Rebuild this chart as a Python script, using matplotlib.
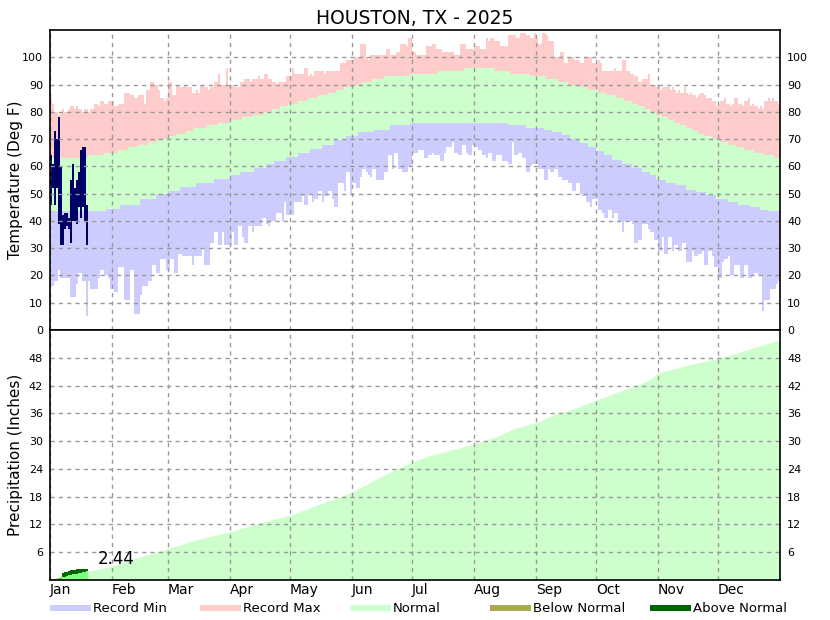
import numpy as np
import matplotlib
matplotlib.use("Agg")
import matplotlib.pyplot as plt
from matplotlib.patches import Rectangle

W, H = 830, 620

MONTHS = ["Jan", "Feb", "Mar", "Apr", "May", "Jun",
          "Jul", "Aug", "Sep", "Oct", "Nov", "Dec"]
MONTH_START = [0, 31, 59, 90, 120, 151, 181, 212, 243, 273, 304, 334]

# daily record highs / lows (deg F), day 0 = Jan 1
REC_MAX = [
    85, 83, 80, 80, 79, 80, 81, 80, 80, 81,
    82, 82, 81, 82, 81, 81, 80, 81, 81, 80,
    81, 81, 83, 83, 82, 84, 84, 83, 83, 84,
    84, 84, 82, 82, 83, 83, 83, 87, 87, 87,
    86, 86, 85, 85, 86, 86, 86, 83, 88, 88,
    91, 91, 90, 90, 88, 85, 85, 84, 85, 91,
    91, 86, 86, 90, 90, 89, 89, 90, 89, 89,
    89, 87, 87, 88, 87, 90, 90, 89, 89, 88,
    89, 89, 91, 91, 94, 90, 90, 90, 96, 90,
    90, 90, 89, 89, 89, 91, 91, 92, 92, 92,
    91, 92, 92, 92, 93, 92, 92, 94, 94, 92,
    92, 91, 91, 90, 91, 91, 91, 91, 93, 93,
    93, 96, 94, 94, 94, 94, 94, 96, 96, 93,
    94, 93, 95, 95, 95, 95, 95, 94, 95, 95,
    95, 95, 95, 95, 95, 98, 98, 98, 99, 99,
    99, 99, 100, 100, 100, 105, 105, 105, 100, 99,
    101, 101, 101, 101, 101, 101, 101, 101, 103, 103,
    101, 101, 101, 102, 102, 105, 105, 105, 104, 107,
    107, 102, 102, 101, 101, 101, 101, 101, 104, 104,
    104, 105, 105, 103, 103, 103, 102, 102, 102, 102,
    102, 102, 101, 101, 101, 105, 105, 105, 103, 103,
    103, 103, 104, 104, 104, 103, 103, 103, 107, 106,
    107, 107, 106, 106, 106, 104, 104, 104, 104, 108,
    108, 108, 108, 107, 107, 109, 109, 109, 108, 108,
    107, 107, 109, 107, 105, 105, 109, 109, 108, 106,
    106, 106, 100, 100, 100, 102, 102, 98, 98, 100,
    100, 100, 99, 99, 99, 98, 98, 100, 100, 100,
    100, 98, 98, 98, 99, 98, 95, 95, 95, 95,
    95, 95, 96, 95, 95, 95, 99, 99, 95, 95,
    94, 94, 93, 93, 91, 91, 92, 92, 92, 94,
    90, 90, 90, 89, 89, 88, 89, 89, 89, 89,
    88, 89, 88, 87, 88, 87, 87, 89, 87, 86,
    87, 86, 86, 85, 86, 87, 87, 86, 85, 85,
    85, 84, 84, 82, 83, 84, 84, 85, 83, 83,
    82, 83, 85, 85, 83, 83, 82, 84, 84, 85,
    82, 83, 82, 82, 81, 82, 81, 84, 84, 85,
    84, 85, 84, 84, 83,
]

REC_MIN = [
    16, 16, 18, 18, 22, 19, 19, 19, 19, 19,
    12, 12, 12, 17, 21, 21, 18, 18, 5, 18,
    15, 15, 15, 15, 19, 22, 22, 20, 20, 19,
    15, 15, 14, 14, 23, 23, 23, 11, 11, 11,
    22, 22, 6, 6, 6, 13, 16, 16, 16, 18,
    18, 24, 24, 21, 21, 26, 26, 26, 22, 22,
    26, 26, 21, 21, 28, 28, 27, 27, 27, 27,
    27, 24, 27, 27, 27, 27, 30, 24, 24, 24,
    32, 32, 36, 36, 31, 31, 36, 31, 31, 31,
    31, 36, 31, 31, 38, 38, 34, 32, 32, 38,
    38, 36, 38, 38, 38, 38, 41, 41, 39, 38,
    40, 40, 40, 43, 43, 43, 40, 47, 42, 42,
    42, 42, 47, 47, 47, 47, 49, 46, 46, 50,
    50, 47, 48, 48, 51, 51, 47, 49, 49, 51,
    51, 48, 45, 45, 54, 54, 54, 51, 58, 58,
    50, 54, 54, 52, 52, 56, 59, 59, 58, 57,
    56, 59, 59, 55, 55, 55, 55, 58, 58, 64,
    64, 59, 65, 65, 59, 59, 58, 58, 58, 60,
    60, 65, 65, 65, 66, 66, 66, 63, 63, 64,
    64, 65, 64, 64, 64, 62, 62, 65, 67, 67,
    67, 69, 65, 65, 64, 64, 68, 68, 65, 64,
    64, 68, 67, 67, 66, 66, 64, 64, 63, 65,
    65, 62, 62, 64, 64, 64, 62, 62, 62, 61,
    61, 69, 64, 64, 65, 65, 63, 63, 58, 58,
    60, 61, 61, 61, 59, 59, 59, 55, 55, 59,
    58, 58, 59, 59, 56, 56, 55, 55, 55, 54,
    54, 51, 51, 54, 54, 50, 49, 49, 47, 47,
    45, 48, 48, 48, 44, 44, 43, 41, 41, 44,
    44, 41, 43, 43, 40, 40, 36, 40, 40, 40,
    40, 39, 32, 32, 33, 33, 39, 39, 39, 37,
    36, 36, 33, 33, 29, 29, 34, 28, 28, 34,
    34, 29, 31, 31, 29, 29, 32, 32, 25, 25,
    25, 29, 27, 27, 28, 28, 29, 24, 24, 29,
    29, 27, 23, 23, 19, 19, 25, 26, 26, 27,
    20, 20, 24, 24, 24, 19, 19, 24, 24, 19,
    19, 20, 21, 21, 20, 20, 7, 11, 11, 11,
    15, 15, 15, 17, 18,
]

# normal highs / lows held as steps: first day of each step and its value
NORM_HI_START = [0, 19, 27, 34, 39, 44, 49, 54, 59, 63, 68, 72, 78, 84, 90,
                 96, 101, 107, 111, 115, 119, 124, 129, 134, 139, 143, 147,
                 151, 156, 161, 167, 180, 194, 207, 222, 230, 240, 248, 254,
                 259, 264, 269, 274, 278, 283, 287, 291, 294, 297, 300, 303,
                 306, 309, 312, 315, 318, 321, 324, 327, 331, 335, 339, 343,
                 347, 352, 357, 362]
NORM_HI_VAL = [63, 64, 65, 66, 67, 68, 69, 70, 71, 72, 73, 74, 75, 76, 77,
               78, 79, 80, 81, 82, 83, 84, 85, 86, 87, 88, 89,
               90, 91, 92, 93, 94, 95, 96, 95, 94, 93, 92, 91,
               90, 89, 88, 87, 86, 85, 84, 83, 82, 81, 80, 79,
               78, 77, 76, 75, 74, 73, 72, 71, 70, 69, 68, 67,
               66, 65, 64, 63]
NORM_LO_START = [0, 28, 35, 45, 53, 59, 65, 73, 82, 90, 95, 102, 108, 112,
                 118, 124, 130, 136, 142, 148, 154, 162, 170, 180, 229, 238,
                 247, 251, 256, 260, 265, 269, 273, 277, 281, 286, 291, 296,
                 300, 303, 308, 313, 318, 323, 328, 333, 339, 344, 350, 355,
                 359]
NORM_LO_VAL = [43.5, 44.5, 46, 48, 50, 51, 52.5, 54, 55.5, 57, 58, 59.5, 61, 62,
               63.5, 65, 66.5, 68, 69.5, 71, 72.5, 73.5, 75, 76, 75, 74,
               73.5, 72.5, 71.5, 70, 68.5, 67, 65.5, 64, 62.5, 61, 59.5, 58,
               57, 55, 54, 53, 51.5, 50.5, 49.5, 48, 47, 46, 45, 44,
               43.5]

# observed 2025 daily high / low (Jan 1 onward)
OBS_HI = [64, 61, 73, 70, 78, 60, 42, 43, 43, 41, 55, 61, 52, 55, 58, 66, 67, 67, 46]
OBS_LO = [46, 52, 46, 52, 39, 31, 31, 37, 38, 37, 32, 40, 40, 39, 45, 41, 45, 40, 31]

# normal cumulative precipitation (inches) read at these days
PCP_NORM_DAY = [0, 10, 19, 31, 42, 59, 75, 90, 105, 120, 131, 140, 151, 162,
                172, 181, 190, 198, 212, 223, 232, 244, 253, 262, 273, 288,
                295, 300, 304, 318, 335, 345, 355, 365]
PCP_NORM_CUM = [0.0, 0.9, 1.9, 3.0, 4.6, 6.8, 8.9, 10.4, 12.3, 14.0, 15.8,
                17.2, 19.0, 21.5, 23.7, 25.5, 26.9, 27.8, 29.4, 30.9, 32.7,
                34.1, 35.9, 37.0, 38.8, 41.3, 42.4, 43.2, 44.7, 46.3, 48.0,
                49.2, 50.6, 51.9]
# observed cumulative precipitation and normal over the same days
PCP_OBS_CUM = [0.05, 0.1, 0.15, 0.4, 0.4, 0.45, 1.6, 1.65, 1.7, 1.95,
               2.15, 2.2, 2.25, 2.3, 2.35, 2.4, 2.44, 2.44, 2.44]
PCP_NORM_OBS = [0.1, 0.2, 0.3, 0.35, 0.45, 0.55, 0.65, 0.75, 0.9, 1.0,
                1.1, 1.2, 1.3, 1.4, 1.5, 1.6, 1.7, 1.8, 1.9]
PCP_TOTAL_LABEL = "2.44"

C_MIN = "#ccccff"
C_MAX = "#ffcccc"
C_NORM = "#ccffcc"
C_BELOW = "#aaaa4c"
C_ABOVE = "#006600"
C_OBS_NORM = "#80ff80"
C_OBS = "#000066"
GRID = "#999999"

plt.rcParams["font.family"] = "DejaVu Sans"


def px_axes(fig, x0, y0, x1, y1):
    return fig.add_axes([x0 / W, 1 - y1 / H, (x1 - x0) / W, (y1 - y0) / H])


def style_axes(ax):
    ax.set_xlim(0, 365)
    ax.set_xticks(MONTH_START)
    ax.grid(True, color=GRID, linestyle=(0, (3, 3)), linewidth=1)
    ax.set_axisbelow(False)
    ax.tick_params(length=0, labelsize=8, pad=5, labelright=True,
                   right=False, left=False)
    for s in ax.spines.values():
        s.set_linewidth(1.2)
        s.set_zorder(5)


fig = plt.figure(figsize=(W / 100, H / 100), dpi=100)

# ---- temperature ----
ax1 = px_axes(fig, 50, 30, 780, 330)
days = np.arange(365)
rmax = np.array(REC_MAX, float)
rmin = np.array(REC_MIN, float)
nhi = np.repeat(NORM_HI_VAL, np.diff(NORM_HI_START + [365])).astype(float)
nlo = np.repeat(NORM_LO_VAL, np.diff(NORM_LO_START + [365])).astype(float)

bar_kw = dict(width=1.0, align="edge", linewidth=0, antialiased=False)
ax1.bar(days, rmax - rmin, bottom=rmin, color=C_MAX, **bar_kw)
ax1.bar(days, nlo - rmin, bottom=rmin, color=C_MIN, **bar_kw)
ax1.bar(days, nhi - nlo, bottom=nlo, color=C_NORM, **bar_kw)

od = np.arange(len(OBS_HI))
ohi = np.array(OBS_HI, float)
olo = np.array(OBS_LO, float)
ax1.bar(od, ohi - olo, bottom=olo, color=C_OBS, **bar_kw)

ax1.set_ylim(0, 110)
ax1.set_yticks(range(0, 101, 10))
ax1.set_xticklabels([])
style_axes(ax1)
ax1.set_ylabel("Temperature (Deg F)", fontsize=11)
ax1.set_title("HOUSTON, TX - 2025", fontsize=13.5, pad=4)

# ---- precipitation ----
ax2 = px_axes(fig, 50, 330, 780, 580)
ax2.fill_between(PCP_NORM_DAY, 0, PCP_NORM_CUM, color=C_NORM, linewidth=0)

pobs = np.array(PCP_OBS_CUM)
pnrm = np.array(PCP_NORM_OBS)
below = pobs < pnrm
ax2.bar(od[below], pobs[below], color=C_BELOW, **bar_kw)
ax2.bar(od[below], pnrm[below] - pobs[below], bottom=pobs[below],
        color=C_OBS_NORM, **bar_kw)
ax2.bar(od[~below], pnrm[~below], color=C_OBS_NORM, **bar_kw)
ax2.bar(od[~below], pobs[~below] - pnrm[~below], bottom=pnrm[~below],
        color=C_ABOVE, **bar_kw)
ax2.text(len(pobs) + 5, pobs[-1] + 0.1, PCP_TOTAL_LABEL, fontsize=12,
         ha="left", va="bottom")

ax2.set_ylim(0, 54)
ax2.set_yticks(range(6, 49, 6))
ax2.set_xticklabels(MONTHS, fontsize=10, ha="left")
style_axes(ax2)
ax2.tick_params(axis="x", pad=2, labelsize=10)
ax2.set_ylabel("Precipitation (Inches)", fontsize=11)

# y labels: right edge of the rotated text sits ~23 px from the figure edge
ax1.yaxis.set_label_coords(-27 / 730, 0.5)
ax2.yaxis.set_label_coords(-27 / 730, 0.5)

# ---- legend ----
legend = [("Record Min", C_MIN, 50), ("Record Max", C_MAX, 200),
          ("Normal", C_NORM, 350), ("Below Normal", C_BELOW, 490),
          ("Above Normal", C_ABOVE, 650)]
for name, col, x in legend:
    fig.patches.append(Rectangle((x / W, 1 - 611 / H), 41 / W, 6 / H,
                                 transform=fig.transFigure, color=col,
                                 linewidth=0))
    fig.text((x + 43) / W, 1 - 612 / H, name, fontsize=9.5,
             ha="left", va="baseline")

fig.savefig("out.png", dpi=100)
